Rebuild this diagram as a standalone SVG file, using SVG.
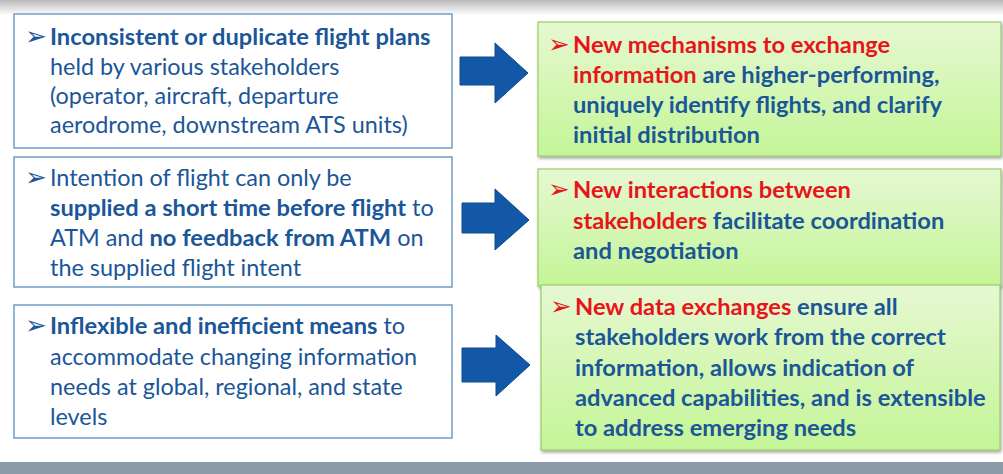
<svg xmlns="http://www.w3.org/2000/svg" width="1003" height="474" viewBox="0 0 1003 474">
<defs>
<linearGradient id="topfade" x1="0" y1="0" x2="0" y2="1">
<stop offset="0" stop-color="#b9b9b9"/>
<stop offset="1" stop-color="#ffffff"/>
</linearGradient>
<linearGradient id="green" x1="0" y1="0" x2="0" y2="1">
<stop offset="0" stop-color="#e6f8d2"/>
<stop offset="1" stop-color="#c4f597"/>
</linearGradient>
<filter id="shadow" x="-5%" y="-5%" width="110%" height="115%">
<feDropShadow dx="1" dy="2" stdDeviation="1.5" flood-color="#000" flood-opacity="0.35"/>
</filter>
</defs>
<style>
text{font-family:Lato,"Open Sans","Liberation Sans",sans-serif;font-size:23.4px;fill:#1a5698}
.b{font-weight:bold;font-size:23.7px}
.r{fill:#e8141b;font-weight:bold}
.bul{font-family:"DejaVu Sans",sans-serif;font-size:26px;font-weight:normal}
.left{fill:#ffffff;stroke:#6d9dc5;stroke-width:1.5}
.right{fill:url(#green);stroke:#98cd66;stroke-width:1.2;filter:url(#shadow)}
.arrow{fill:#1258a6;stroke:#0c4a8e;stroke-width:1}
</style>
<rect width="1003" height="474" fill="#ffffff"/>
<rect x="0" y="0" width="1003" height="15" fill="url(#topfade)"/>
<rect x="0" y="462" width="1003" height="12" fill="#8c9ba6"/>

<g id="problem1">
<rect class="left" x="14" y="14" width="438" height="134"/>
<text x="25" y="45"><tspan class="bul">➢</tspan><tspan class="b" x="50">Inconsistent or duplicate flight plans</tspan></text>
<text x="50" y="75">held by various stakeholders</text>
<text x="50" y="104">(operator, aircraft, departure</text>
<text x="50" y="133">aerodrome, downstream ATS units)</text>
</g>

<g id="problem2">
<rect class="left" x="14" y="157" width="438" height="130"/>
<text x="25" y="186"><tspan class="bul">➢</tspan><tspan x="50">Intention of flight can only be</tspan></text>
<text x="50" y="216"><tspan class="b">supplied a short time before flight</tspan> to</text>
<text x="50" y="246">ATM and <tspan class="b">no feedback from ATM</tspan> on</text>
<text x="50" y="276">the supplied flight intent</text>
</g>

<g id="problem3">
<rect class="left" x="14" y="305" width="438" height="133"/>
<text x="25" y="334"><tspan class="bul">➢</tspan><tspan class="b" x="50">Inflexible and inefficient means</tspan> to</text>
<text x="50" y="365">accommodate changing information</text>
<text x="50" y="395">needs at global, regional, and state</text>
<text x="50" y="425">levels</text>
</g>

<g id="solution1">
<rect class="right" x="538" y="22" width="463" height="134"/>
<text x="548" y="53" class="b"><tspan class="bul" style="fill:#e8141b">➢</tspan><tspan class="r" x="573">New mechanisms to exchange</tspan></text>
<text x="573" y="83" class="b"><tspan class="r">information</tspan> are higher-performing,</text>
<text x="573" y="113" class="b">uniquely identify flights, and clarify</text>
<text x="573" y="143" class="b">initial distribution</text>
</g>

<g id="solution2">
<rect class="right" x="538" y="169" width="463" height="117"/>
<text x="548" y="198" class="b"><tspan class="bul" style="fill:#e8141b">➢</tspan><tspan class="r" x="573">New interactions between</tspan></text>
<text x="573" y="229" class="b"><tspan class="r">stakeholders</tspan> facilitate coordination</text>
<text x="573" y="259" class="b">and negotiation</text>
</g>

<g id="solution3">
<rect class="right" x="541" y="285" width="459" height="165"/>
<text x="550" y="315" class="b"><tspan class="bul" style="fill:#e8141b">➢</tspan><tspan class="r" x="575">New data exchanges</tspan> ensure all</text>
<text x="575" y="345" class="b">stakeholders work from the correct</text>
<text x="575" y="376" class="b">information, allows indication of</text>
<text x="575" y="406" class="b">advanced capabilities, and is extensible</text>
<text x="575" y="436" class="b">to address emerging needs</text>
</g>

<g id="connectors">
<polygon class="arrow" points="460,57 495,57 495,43 528,73 495,103 495,85 460,85"/>
<polygon class="arrow" points="462,203 495,203 495,189 529,220 495,250 495,233 462,233"/>
<polygon class="arrow" points="462,348 496,348 496,335 530,365 496,396 496,382 462,382"/>
</g>
</svg>
